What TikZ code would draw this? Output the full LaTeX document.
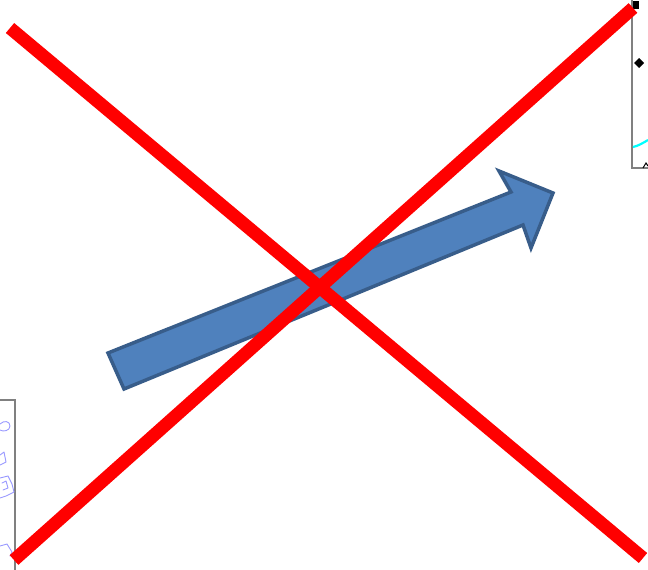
\documentclass[tikz,border=0pt]{standalone}
\usepackage{xcolor}
\usepackage{tikz}
\definecolor{crossred}{HTML}{FF0000}
\definecolor{arrowfill}{HTML}{4F81BD}
\definecolor{arrowline}{HTML}{385D8A}
\definecolor{framegray}{HTML}{808080}
\definecolor{scribble}{HTML}{9999FF}
\definecolor{curvecyan}{HTML}{00FFFF}
\tikzset{
    every picture/.style={line join=miter},
    crossline/.style={draw=crossred,line width=13pt,line cap=butt},
    blockarrow/.style={draw=arrowline,fill=arrowfill,line width=3.5pt,line join=miter},
    framepart/.style={draw=framegray,line width=1.2pt},
    scribbleline/.style={draw=scribble,line width=0.9pt,line cap=round,line join=round}
}
\begin{document}
\begin{tikzpicture}[x=1pt,y=-1pt]
  \useasboundingbox (0,0) rectangle (648,570);
  % cut-off plot, top right
  \draw[framepart] (632,0) -- (632,168) -- (648,168);
  \fill[black] (633,1) rectangle (639,9);
  \fill[black] (639,58) -- (644,63) -- (639,68) -- (634,63) -- cycle;
  \draw[curvecyan,line width=2.2pt] (633,147) .. controls (638,146) and (643,143) .. (648,140);
  \draw[black,line width=1pt] (643,168) -- (646,163) -- (648,166);
  % cut-off figure, bottom left
  \draw[framepart] (0,400) -- (15,400) -- (15,570);
  \draw[scribbleline] (0,424) .. controls (4,420) and (10,421) .. (10,426) .. controls (10,431) and (3,432) .. (0,430);
  \draw[scribbleline] (0,455) -- (4,452) -- (6,462) -- (0,465);
  \draw[scribbleline] (0,478) -- (8,476) -- (12,484) -- (14,492) -- (6,496) -- (0,498);
  \draw[scribbleline] (2,483) -- (6,481) -- (8,488) -- (3,490);
  \draw[scribbleline] (0,546) -- (7,544) -- (12,552) -- (10,556);
  % big arrow
  \draw[blockarrow] (108,353) -- (511,192) -- (499,171) -- (553,193)
    -- (531,248) -- (523,225) -- (124,389) -- cycle;
  % red cross
  \draw[crossline] (10,28) -- (643,558);
  \draw[crossline] (14,560) -- (633,8);
\end{tikzpicture}
\end{document}
